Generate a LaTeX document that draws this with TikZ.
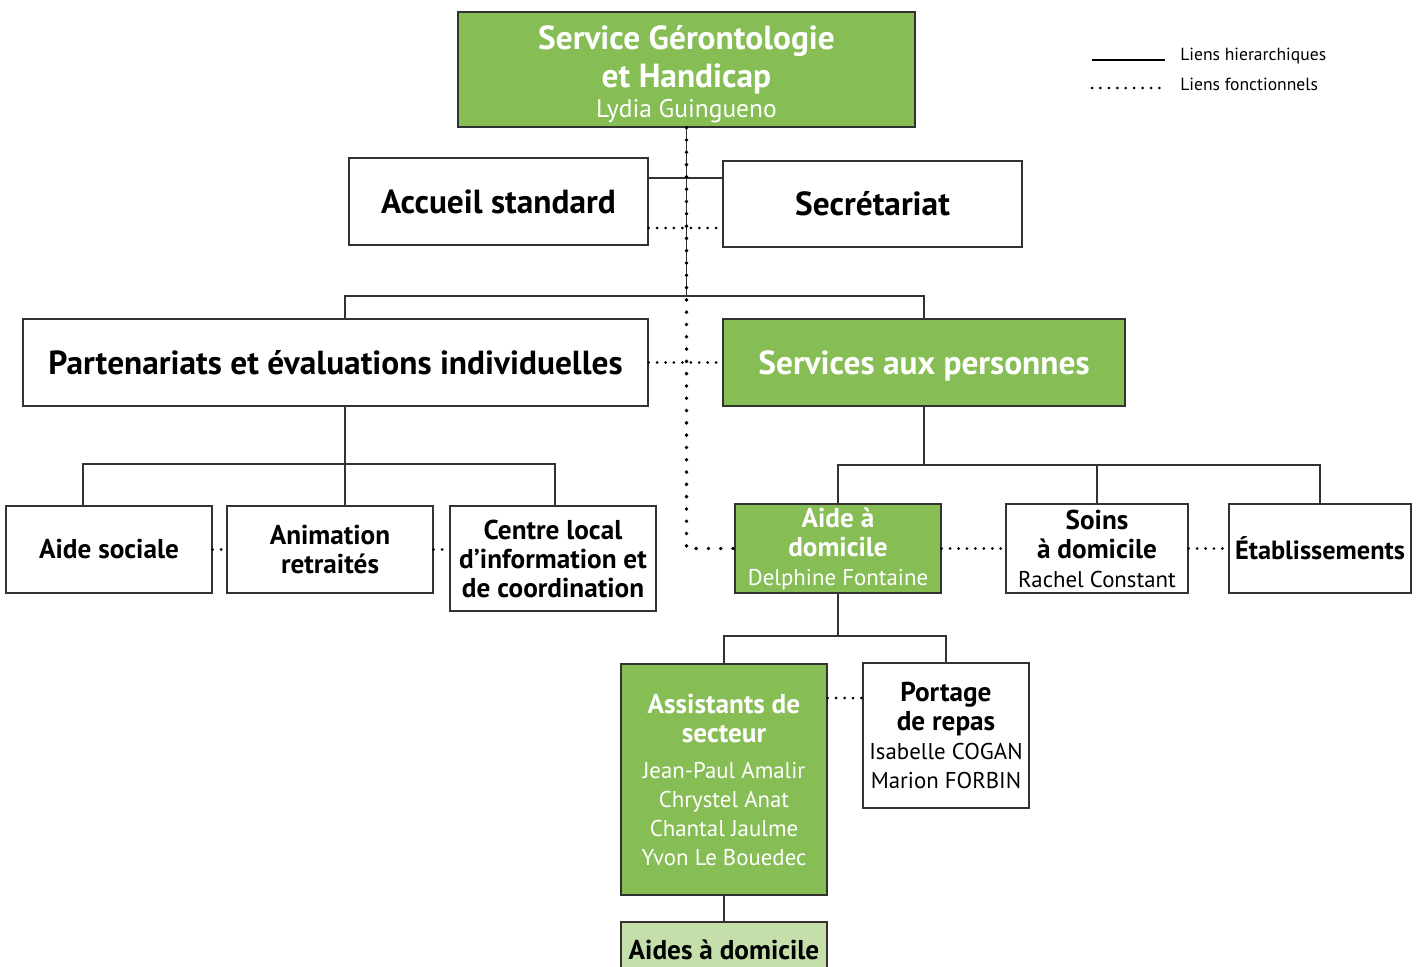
\documentclass[tikz,border=0pt]{standalone}
\usepackage{fontspec}
\setmainfont{PT Sans}
\definecolor{sggreen}{RGB}{134,189,85}
\definecolor{sglight}{RGB}{196,223,170}
\definecolor{sgline}{RGB}{50,50,50}
\usetikzlibrary{positioning,calc}

% name lines under a unit title
\newcommand\nomresp[1]{{\mdseries\fontsize{13}{17}\selectfont #1}}

\begin{document}
\begin{tikzpicture}[x=0.02cm, y=-0.02cm,
    unit/.style={rectangle, draw=sgline, line width=0.8pt, fill=white, inner sep=0pt,
                 align=center, minimum height=1.74cm,
                 font=\bfseries\fontsize{19}{21.6}\selectfont},
    subunit/.style={unit, minimum width=4.12cm, minimum height=1.74cm,
                    font=\bfseries\fontsize{15.5}{16.5}\selectfont},
    lead/.style={fill=sggreen, text=white},
    hier/.style={draw=sgline, line width=0.8pt},
    fonc/.style={line width=1.7pt, dash pattern=on 0pt off 4.8pt, line cap=round},
    legend/.style={font=\fontsize{10}{12}\selectfont, inner sep=0pt, anchor=west}
  ]
    \clip (0,0) rectangle (1417,967);

    % Head of service
    \node[unit, lead, minimum width=9.14cm, minimum height=2.30cm] (top) at (686.5,69.5)
      {\rule{0pt}{19pt}Service Gérontologie\\et Handicap\\[-4pt]{\mdseries\fontsize{14.5}{17}\selectfont Lydia Guingueno}};

    % Support units
    \node[unit, minimum width=5.98cm] (accueil) at (498.5,201.5) {Accueil standard};
    \node[unit, minimum width=5.98cm, minimum height=1.72cm] (secretariat) at (872.5,204) {Secrétariat};

    % Main branches
    \node[unit, minimum width=12.5cm] (part) at (335.5,362.5)
      {Partenariats et évaluations individuelles};
    \node[unit, lead, minimum width=8.04cm] (services) at (924,362.5)
      {\rule{0pt}{17pt}Services aux personnes};

    % Partenariats side
    \node[subunit] (aidesoc) at (109,549.5) {Aide sociale};
    \node[subunit] (anim) at (330,549.5) {Animation\\retraités};
    \node[subunit, minimum height=2.10cm] (centre) at (553,558.5)
      {Centre local\\d’information et\\de coordination};

    % Services side
    \node[subunit, lead, minimum height=1.78cm] (aidedom) at (838,548.5)
      {Aide à\\domicile\\\nomresp{Delphine Fontaine}};
    \node[subunit, minimum width=3.64cm, minimum height=1.78cm] (soins) at (1097,548.5)
      {Soins\\à domicile\\\nomresp{Rachel Constant}};
    \node[subunit, minimum width=3.64cm, minimum height=1.78cm,
          font=\bfseries\fontsize{15}{16.5}\selectfont] (etab) at (1320,548.5)
      {Établissements};

    % Aide a domicile team
    \node[subunit, lead, minimum height=4.62cm] (assist) at (724,779.5)
      {Assistants de\\secteur\\[4pt]\nomresp{Jean-Paul Amalir}\\\nomresp{Chrystel Anat}\\
       \nomresp{Chantal Jaulme}\\\nomresp{Yvon Le Bouedec}};
    \node[subunit, minimum width=3.32cm, minimum height=2.90cm] (portage) at (946,735.5)
      {Portage\\de repas\\\nomresp{Isabelle COGAN}\\\nomresp{Marion FORBIN}};
    \node[subunit, fill=sglight, minimum height=1.12cm] (aides) at (724,950) {Aides à domicile};

    % Hierarchical links
    \coordinate (busL) at (345,296);
    \coordinate (busR) at (services.north |- busL);
    \draw[hier] (top.south) -- (top.south |- busL);
    \draw[hier] ([yshift=0.47cm]accueil.east) -- ([yshift=0.47cm]accueil.east -| secretariat.west);
    \draw[hier] (busL |- part.north) -- (busL) -- (busR) -- (services.north);

    \coordinate (pA) at (83,464);
    \coordinate (pB) at (345,464);
    \coordinate (pC) at (555,464);
    \draw[hier] (pB |- part.south) -- (pB |- anim.north);
    \draw[hier] (pA |- aidesoc.north) -- (pA) -- (pC) -- (pC |- centre.north);

    \coordinate (sA) at (836,465);
    \draw[hier] (services.south) -- (services.south |- sA);
    \draw[hier] (aidedom.north) -- (aidedom.north |- sA) -- (etab.north |- sA) -- (etab.north);
    \draw[hier] (soins.north) -- (soins.north |- sA);

    \coordinate (aB) at (0,636);
    \draw[hier] (aidedom.south) -- (aidedom.south |- aB);
    \draw[hier] (assist.north) -- (assist.north |- aB) -- (portage.north |- aB) -- (portage.north);
    \draw[hier] (assist.south) -- (aides.north);

    % Functional links
    \draw[fonc, line width=2.2pt, dash pattern=on 0pt off 7pt] (top.south) |- (aidedom.west);
    \draw[fonc] ([yshift=-0.53cm]accueil.east) -- ([yshift=-0.53cm]accueil.east -| secretariat.west);
    \draw[fonc] (part.east) -- (services.west);
    \draw[fonc] (aidesoc.east) -- (anim.west);
    \draw[fonc] (anim.east) -- (anim.east -| centre.west);
    \draw[fonc] (aidedom.east) -- (soins.west);
    \draw[fonc] (soins.east) -- (etab.west);
    \draw[fonc] ([yshift=1.63cm]assist.east) -- ([yshift=1.63cm]assist.east -| portage.west);

    % Legend
    \coordinate (legA) at (1092,60);
    \coordinate (legB) at (1092,88);
    \node[legend] (legH) at (1180,56) {Liens hierarchiques};
    \node[legend] (legF) at (1180,84) {Liens fonctionnels};
    \draw[line width=0.8pt] (legA) -- ++(73,0);
    \draw[fonc] (legB) -- ++(75,0);
\end{tikzpicture}
\end{document}
